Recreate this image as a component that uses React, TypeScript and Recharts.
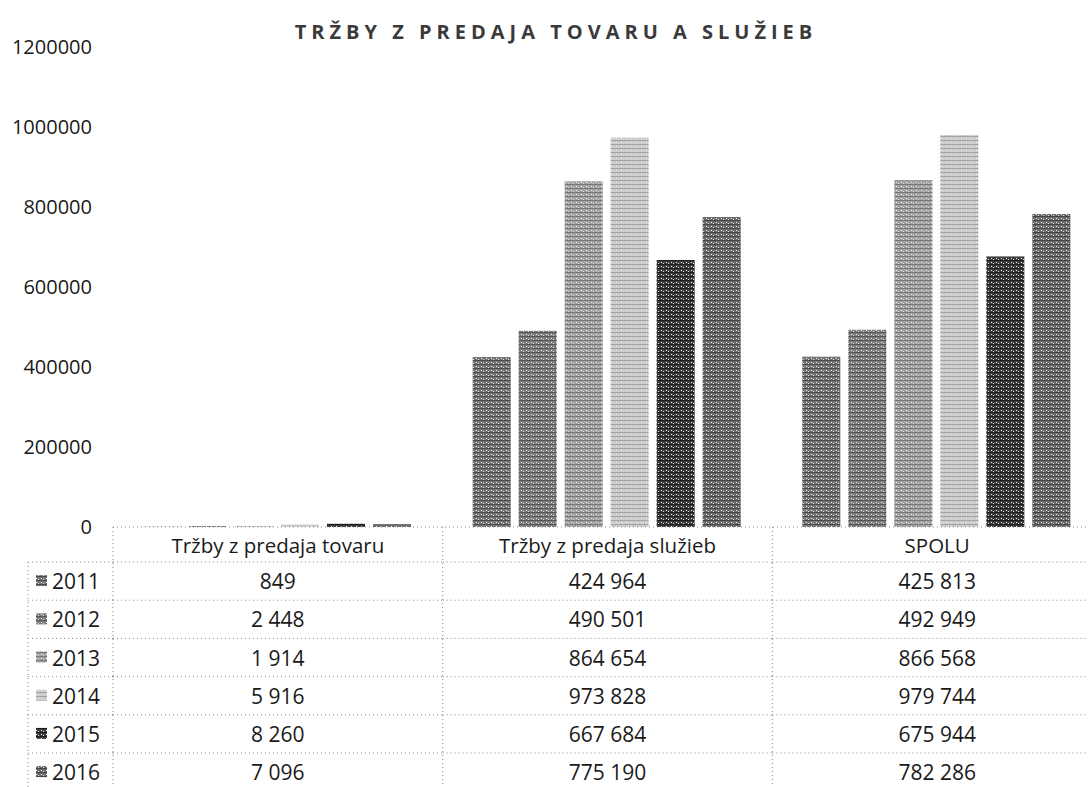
import React from 'react';
import { Bar, BarChart, XAxis, YAxis } from 'recharts';

const categories = ['Tržby z predaja tovaru', 'Tržby z predaja služieb', 'SPOLU'];
const years = ['2011', '2012', '2013', '2014', '2015', '2016'];

const v2011 = [849, 424964, 425813];
const v2012 = [2448, 490501, 492949];
const v2013 = [1914, 864654, 866568];
const v2014 = [5916, 973828, 979744];
const v2015 = [8260, 667684, 675944];
const v2016 = [7096, 775190, 782286];

const yTicks = [0, 200000, 400000, 600000, 800000, 1000000, 1200000];

const seriesValues = [v2011, v2012, v2013, v2014, v2015, v2016];
const shades = ['#767676', '#7e7e7e', '#a2a2a2', '#cbcbcb', '#3c3c3c', '#6c6c6c'];
const streaks = ['#4a4a4a', '#555555', '#777777', '#a4a4a4', '#1c1c1c', '#454545'];

const data = categories.map((name, i) => {
   const row: Record<string, string | number> = { name };
   years.forEach((y, k) => {
      row['y' + y] = seriesValues[k][i];
   });
   return row;
});

const CHART_W = 1102;
const CHART_H = 787;
const Y_W = 113;
const COL_W = (CHART_W - Y_W) / categories.length;
const HEAD_H = 35;
const ROW_H = 38.2;
const LEG_LEFT = 28;

const font = '"Open Sans", sans-serif';
const dotted = { stroke: '#8a8a8a', strokeWidth: 1, strokeDasharray: '1 3' };

const fmt = (n: number) => n.toString().replace(/\B(?=(\d{3})+(?!\d))/g, '\u00a0');

const TableTick = (props: any) => {
   const { x, y, payload, index } = props;
   const left = x - COL_W / 2;
   const right = x + COL_W / 2;
   const bottom = y + HEAD_H + ROW_H * years.length + 10;
   return (
      <g>
         <line x1={right} y1={y} x2={right} y2={bottom} {...dotted} />
         {index === 0 && <line x1={left} y1={y} x2={left} y2={bottom} {...dotted} />}
         <text
            x={x}
            y={y + HEAD_H / 2}
            textAnchor="middle"
            dominantBaseline="central"
            fontFamily={font}
            fontSize={20.5}
            fill="#1a1a1a"
         >
            {payload.value}
         </text>
         {years.map((yr, k) => {
            const top = y + HEAD_H + ROW_H * k;
            return (
               <g key={yr}>
                  <line x1={left} y1={top} x2={right} y2={top} {...dotted} />
                  <text
                     x={x}
                     y={top + ROW_H / 2}
                     textAnchor="middle"
                     dominantBaseline="central"
                     fontFamily={font}
                     fontSize={21}
                     fill="#1a1a1a"
                  >
                     {fmt(seriesValues[k][index])}
                  </text>
                  {index === 0 && (
                     <g>
                        <line x1={LEG_LEFT} y1={top} x2={left} y2={top} {...dotted} />
                        <rect
                           x={LEG_LEFT + 8}
                           y={top + ROW_H / 2 - 6}
                           width={11}
                           height={11}
                           fill={`url(#pat${yr})`}
                        />
                        <text
                           x={LEG_LEFT + 24}
                           y={top + ROW_H / 2}
                           dominantBaseline="central"
                           fontFamily={font}
                           fontSize={21}
                           fill="#1a1a1a"
                        >
                           {yr}
                        </text>
                     </g>
                  )}
               </g>
            );
         })}
         {index === 0 && (
            <line
               x1={LEG_LEFT}
               y1={y + HEAD_H}
               x2={LEG_LEFT}
               y2={bottom}
               {...dotted}
            />
         )}
      </g>
   );
};

const App: React.FC = () => {
   return (
      <div
         style={{
            position: 'absolute',
            left: 0,
            top: 0,
            width: 1088,
            height: CHART_H,
            overflow: 'hidden',
            background: '#fff',
         }}
      >
         <svg width={0} height={0} style={{ position: 'absolute' }}>
            <defs>
               {years.map((yr, k) => (
                  <pattern
                     key={yr}
                     id={`pat${yr}`}
                     patternUnits="userSpaceOnUse"
                     width={5}
                     height={4}
                  >
                     <rect width={5} height={4} fill={shades[k]} />
                     <rect width={5} height={1} fill={streaks[k]} />
                     <rect x={1} y={2} width={1} height={1} fill="#f0f0f0" />
                     <rect x={3} y={3} width={1} height={1} fill="#e0e0e0" />
                  </pattern>
               ))}
            </defs>
         </svg>
         <div
            style={{
               position: 'absolute',
               left: 0,
               top: 18,
               width: 1112,
               textAlign: 'center',
               fontFamily: font,
               fontWeight: 700,
               fontSize: 20,
               letterSpacing: 5,
               color: '#3a3a3a',
            }}
         >
            TRŽBY Z PREDAJA TOVARU A SLUŽIEB
         </div>
         <BarChart
            width={CHART_W}
            height={CHART_H}
            data={data}
            margin={{ top: 47, right: 0, left: 0, bottom: 0 }}
            barCategoryGap={30}
            barGap={8}
         >
            <XAxis
               dataKey="name"
               height={CHART_H - 47 - 480}
               interval={0}
               tickLine={false}
               tickSize={0}
               tickMargin={0}
               axisLine={dotted}
               tick={<TableTick />}
            />
            <YAxis
               width={Y_W}
               domain={[0, 1200000]}
               ticks={yTicks}
               axisLine={false}
               tickLine={false}
               tickMargin={15}
               tick={{ fontFamily: font, fontSize: 20, fill: '#1a1a1a' }}
            />
            {years.map((yr) => (
               <Bar
                  key={yr}
                  dataKey={'y' + yr}
                  fill={`url(#pat${yr})`}
                  isAnimationActive={false}
               />
            ))}
         </BarChart>
      </div>
   );
};

export default App;
